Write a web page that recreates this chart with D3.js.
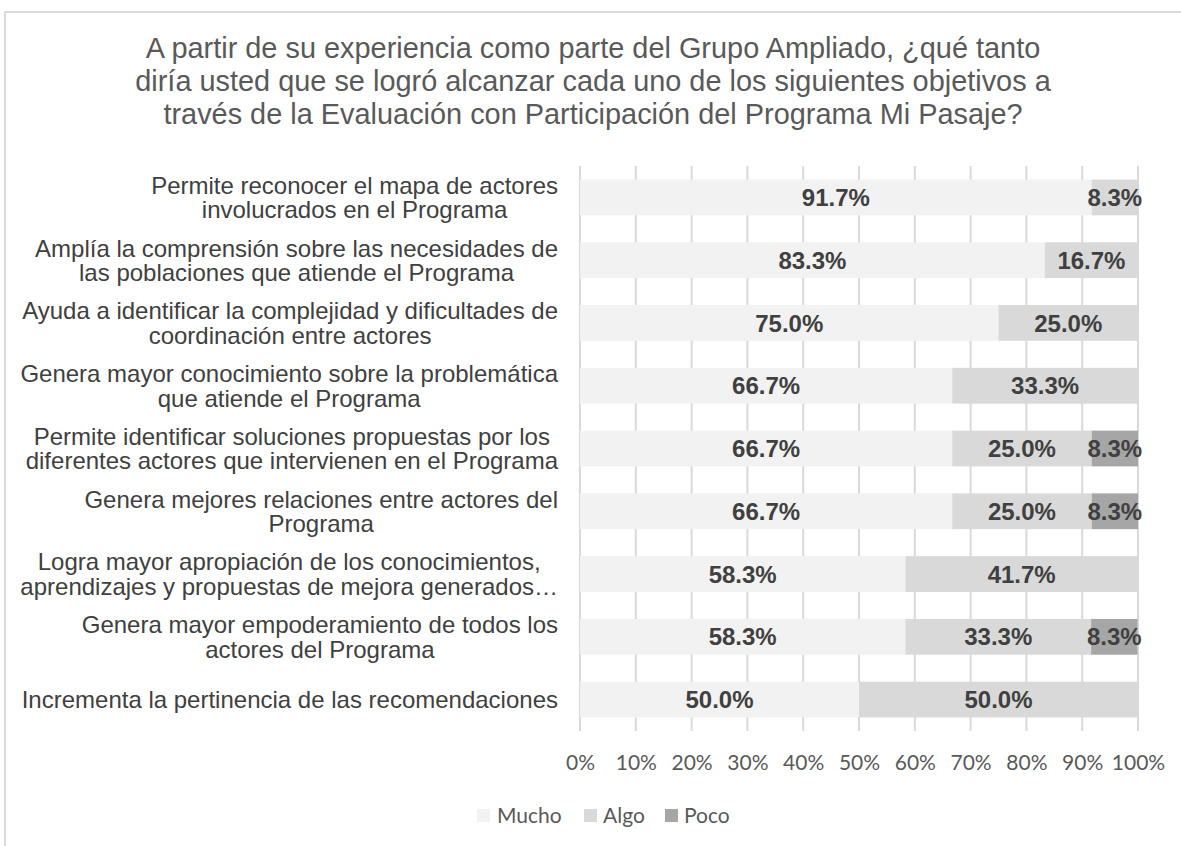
<!DOCTYPE html>
<html>
<head>
<meta charset="utf-8">
<script src="https://cdn.jsdelivr.net/npm/d3@7"></script>
<style>
  html, body { margin: 0; padding: 0; background: #ffffff; }
  svg { display: block; }
</style>
</head>
<body>
<svg id="chart" width="1181" height="846"></svg>
<script>
// Survey objectives (each label split into its display lines)
const categories = [
  ["Permite reconocer el mapa de actores", "involucrados en el Programa"],
  ["Amplía la comprensión sobre las necesidades de", "las poblaciones que atiende el Programa"],
  ["Ayuda a identificar la complejidad y dificultades de", "coordinación entre actores"],
  ["Genera mayor conocimiento sobre la problemática", "que atiende el Programa"],
  ["Permite identificar soluciones propuestas por los", "diferentes actores que intervienen en el Programa"],
  ["Genera mejores relaciones entre actores del", "Programa"],
  ["Logra mayor apropiación de los conocimientos,", "aprendizajes y propuestas de mejora generados…"],
  ["Genera mayor empoderamiento de todos los", "actores del Programa"],
  ["Incrementa la pertinencia de las recomendaciones"]
];

const seriesNames = ["Mucho", "Algo", "Poco"];
const mucho = [91.7, 83.3, 75.0, 66.7, 66.7, 66.7, 58.3, 58.3, 50.0];
const algo  = [8.3, 16.7, 25.0, 33.3, 25.0, 25.0, 41.7, 33.3, 50.0];
const poco  = [0, 0, 0, 0, 8.3, 8.3, 0, 8.3, 0];

const tickValues = [0, 10, 20, 30, 40, 50, 60, 70, 80, 90, 100];

const titleLines = [
  "A partir de su experiencia como parte del Grupo Ampliado, ¿qué tanto",
  "diría usted que se logró alcanzar cada uno de los siguientes objetivos a",
  "través de la Evaluación con Participación del Programa Mi Pasaje?"
];

const colors = ["#f2f2f2", "#d9d9d9", "#a6a6a6"];

const svg = d3.select("#chart");

// outer chart frame
svg.append("rect")
  .attr("x", 5).attr("y", 12)
  .attr("width", 1200).attr("height", 860)
  .attr("fill", "#ffffff")
  .attr("stroke", "#d9d9d9").attr("stroke-width", 2);

// title
svg.append("text")
  .attr("text-anchor", "middle")
  .attr("font-family", "'Liberation Sans', Arial, sans-serif")
  .attr("font-size", 28.9)
  .attr("fill", "#595959")
  .selectAll("tspan")
  .data(titleLines)
  .join("tspan")
  .attr("x", 593)
  .attr("y", (d, i) => 58 + i * 33)
  .text(d => d);

const plot = { left: 580, right: 1138, top: 166, bottom: 731 };

const x = d3.scaleLinear().domain([0, 100]).range([plot.left, plot.right]);
const y = d3.scaleBand()
  .domain(d3.range(categories.length))
  .range([plot.top, plot.bottom])
  .paddingInner(0.43)
  .paddingOuter(0.215);

// vertical gridlines
svg.append("g")
  .selectAll("line")
  .data(tickValues)
  .join("line")
  .attr("x1", d => x(d)).attr("x2", d => x(d))
  .attr("y1", plot.top).attr("y2", plot.bottom)
  .attr("stroke", "#d9d9d9").attr("stroke-width", 2);

// stacked data
const rows = categories.map((c, i) => ({ Mucho: mucho[i], Algo: algo[i], Poco: poco[i], idx: i }));
const stacked = d3.stack().keys(seriesNames)(rows);

const barGroups = svg.append("g")
  .selectAll("g")
  .data(stacked)
  .join("g")
  .attr("fill", (d, i) => colors[i]);

barGroups.selectAll("rect")
  .data(d => d.filter(p => p[1] - p[0] > 0))
  .join("rect")
  .attr("x", p => x(p[0]))
  .attr("width", p => x(p[1]) - x(p[0]))
  .attr("y", p => y(p.data.idx))
  .attr("height", y.bandwidth());

// value labels
const labelGroup = svg.append("g")
  .attr("font-family", "'Liberation Sans', Arial, sans-serif")
  .attr("font-weight", "bold")
  .attr("font-size", 24)
  .attr("fill", "#404040")
  .attr("text-anchor", "middle");

stacked.forEach(layer => {
  labelGroup.selectAll(null)
    .data(layer.filter(p => p[1] - p[0] > 0))
    .join("text")
    .attr("x", p => x((p[0] + p[1]) / 2))
    .attr("y", p => y(p.data.idx) + y.bandwidth() / 2)
    .attr("dy", "0.36em")
    .text(p => (p[1] - p[0]).toFixed(1) + "%");
});

// category labels: block right-aligned to the axis, lines centred within it
const catGroup = svg.append("g")
  .attr("font-family", "'Liberation Sans', Arial, sans-serif")
  .attr("font-size", 24)
  .attr("fill", "#404040");

const labelRight = 558;
const lineH = 24.5;
categories.forEach((lines, i) => {
  const t = catGroup.append("text").attr("text-anchor", "middle");
  const cy = y(i) + y.bandwidth() / 2;
  const spans = t.selectAll("tspan").data(lines).join("tspan")
    .attr("y", (d, k) => cy + (k - (lines.length - 1) / 2) * lineH)
    .attr("dy", "0.36em")
    .text(d => d);
  const w = d3.max(spans.nodes(), n => n.getComputedTextLength());
  spans.attr("x", labelRight - w / 2);
});

// x axis tick labels
const axis = d3.axisBottom(x)
  .tickValues(tickValues)
  .tickFormat(d => d + "%")
  .tickSize(0)
  .tickPadding(0);

const axisG = svg.append("g")
  .attr("transform", `translate(0, ${plot.bottom + 24})`)
  .call(axis);
axisG.select(".domain").remove();
axisG.selectAll("text")
  .attr("font-family", "Lato, 'Open Sans', sans-serif")
  .attr("font-size", 21)
  .attr("fill", "#595959");

// legend
const legendItems = [
  { name: "Mucho", color: colors[0], sx: 477, tx: 497 },
  { name: "Algo", color: colors[1], sx: 584, tx: 603 },
  { name: "Poco", color: colors[2], sx: 665, tx: 684 }
];
const legend = svg.append("g");
legend.selectAll("rect")
  .data(legendItems)
  .join("rect")
  .attr("x", d => d.sx).attr("y", 809)
  .attr("width", 13).attr("height", 13)
  .attr("fill", d => d.color);
legend.selectAll("text")
  .data(legendItems)
  .join("text")
  .attr("x", d => d.tx).attr("y", 823)
  .attr("font-family", "Lato, 'Open Sans', sans-serif")
  .attr("font-size", 21)
  .attr("fill", "#595959")
  .text(d => d.name);
</script>
</body>
</html>
